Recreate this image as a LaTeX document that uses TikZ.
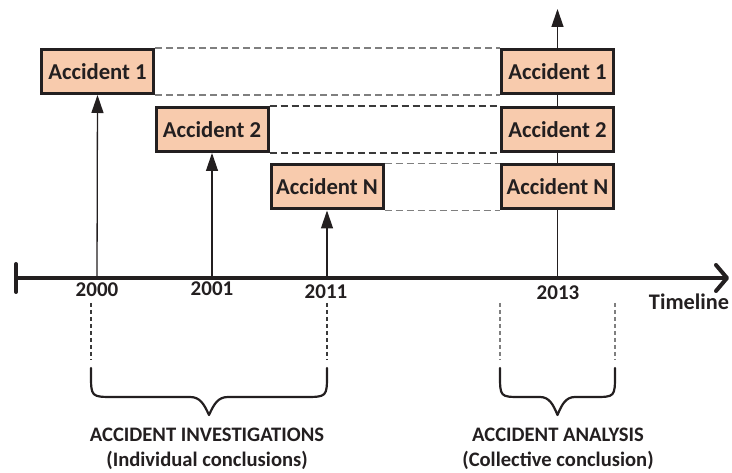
\documentclass[tikz,border=0pt]{standalone}
\usepackage{fontspec}
\setmainfont{Carlito}
\usetikzlibrary{arrows.meta}
\definecolor{ink}{HTML}{231F20}
\definecolor{peach}{HTML}{F8CBAD}
\definecolor{dashgray}{HTML}{7F7F7F}
\definecolor{dashdark}{HTML}{3A3A3A}
\tikzset{
  accbox/.style={draw=ink, fill=peach, line width=3pt, minimum width=112pt,
    minimum height=44pt, inner sep=0pt, text=ink,
    font=\bfseries\fontsize{22.7}{25}\selectfont},
  yearlabel/.style={text=ink, inner sep=0pt, font=\bfseries\fontsize{21}{23}\selectfont},
  caption/.style={text=ink, inner sep=0pt, font=\bfseries\fontsize{20.6}{23}\selectfont},
  uparrow/.style={draw=ink, line width=1.3pt, -{Triangle[length=18pt,width=12pt]}},
  linkline/.style={dashgray, line width=1.2pt, dash pattern=on 7pt off 4pt},
  linkdark/.style={dashdark, line width=1.2pt, dash pattern=on 7pt off 4pt},
  spanline/.style={dashdark, line width=1.2pt, dash pattern=on 4pt off 3pt},
  spangray/.style={dashgray, line width=1.5pt, dash pattern=on 4pt off 3pt},
  brace/.style={draw=ink, line width=2.2pt, line cap=round, line join=round},
}
\begin{document}
\begin{tikzpicture}[x=1pt, y=-1pt]
\useasboundingbox (0,0) rectangle (732,473);

% points on the time axis
\coordinate (tstart) at (16,278);
\coordinate (tend) at (729,278);
\coordinate (t2000) at (97,278);
\coordinate (t2001) at (212,278);
\coordinate (t2011) at (327,278);
\coordinate (t2013) at (557.5,278);
\coordinate (ttop) at (557.5,9);

% vertical axis of the collective analysis (behind its boxes)
\draw[uparrow] (t2013) -- (ttop);

% individual investigations
\node[accbox] (a1) at (97.5,71.5) {Accident 1};
\node[accbox] (a2) at (212,129.5) {Accident 2};
\node[accbox] (aN) at (327,187) {Accident N};

% collective analysis
\node[accbox] (b1) at (557.5,71.5) {Accident 1};
\node[accbox] (b2) at (557.5,129.5) {Accident 2};
\node[accbox] (bN) at (557.5,187) {Accident N};

% dashed links between matching boxes
\draw[linkline] (a1.north east) -- (b1.north west);
\draw[linkline] (a1.south east) -- (b1.south west);
\draw[linkdark] (a2.north east) -- (b2.north west);
\draw[linkdark] (a2.south east) -- (b2.south west);
\draw[linkline] (aN.north east) -- (bN.north west);
\draw[linkline] (aN.south east) -- (bN.south west);

% arrows from the time axis to each investigation
\draw[uparrow] (t2000) -- (a1.south);
\draw[uparrow] (t2001) -- (a2.south);
\draw[uparrow] (t2011) -- (aN.south);

% time axis
\draw[ink, line width=4pt, line cap=round,
  -{Straight Barb[length=11pt,width=26pt,round]}] (tstart) -- (tend);
\draw[ink, line width=4pt, line cap=round] (16,264) -- (16,292);

% year labels
\node[yearlabel] (y2000) at (97,290) {2000};
\node[yearlabel] (y2001) at (212,289) {2001};
\node[yearlabel] (y2011) at (326,292) {2011};
\node[yearlabel] (y2013) at (558,293) {2013};
\node[yearlabel, font=\bfseries\fontsize{22.3}{24}\selectfont] (tl) at (689,302) {Timeline};

% dashed span markers
\coordinate (l1) at (91,303);
\coordinate (l2) at (91,360);
\coordinate (r1) at (327,303);
\coordinate (r2) at (327,360);
\coordinate (m1) at (500,303);
\coordinate (m2) at (500,360);
\coordinate (n1) at (615,303);
\coordinate (n2) at (615,360);
\draw[spanline] (l1) -- (l2);
\draw[spanline] (r1) -- (r2);
\draw[spangray] (m1) -- (m2);
\draw[spangray] (n1) -- (n2);

% braces
\draw[brace] (91,368) -- (91,374) .. controls (91,397) .. (114,397) -- (190,397)
  .. controls (200,397) and (204,404) .. (209,415)
  .. controls (214,404) and (218,397) .. (228,397) -- (304,397)
  .. controls (327,397) .. (327,374) -- (327,368);
\draw[brace] (500,368) -- (500,374) .. controls (500,397) .. (521,397) -- (540,397)
  .. controls (549,397) and (553,404) .. (557.5,415)
  .. controls (562,404) and (566,397) .. (575,397) -- (594,397)
  .. controls (615,397) .. (615,374) -- (615,368);

% captions
\node[caption] (inv) at (207,435) {ACCIDENT INVESTIGATIONS};
\node[caption] (invsub) at (207,460) {(Individual conclusions)};
\node[caption] (ana) at (558,435) {ACCIDENT ANALYSIS};
\node[caption] (anasub) at (558,460) {(Collective conclusion)};
\end{tikzpicture}
\end{document}
